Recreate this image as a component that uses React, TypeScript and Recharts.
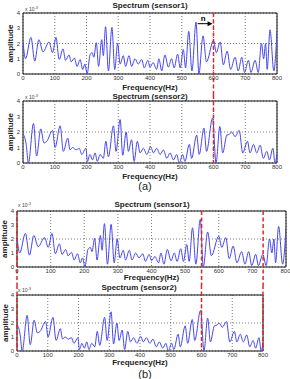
import React from 'react';
import {
  LineChart,
  Line,
  XAxis,
  YAxis,
  CartesianGrid,
  ReferenceLine,
  ReferenceArea,
} from 'recharts';

// spectrum (amplitude in units of 1e-3)
const s1Freq = [0, 8, 25, 37, 50, 63, 82, 93, 104, 114, 126, 134, 145, 152, 162, 170, 180, 188, 195, 202,
  211, 218, 223, 231, 238, 248, 253, 260, 269, 280, 289, 298, 306, 316, 323, 334, 342, 353, 363, 374,
  382, 393, 400, 410, 421, 428, 437, 447, 458, 468, 476, 487, 495, 505, 512, 522, 532, 545, 554, 567,
  578, 600, 609, 621, 631, 643, 654, 668, 678, 689, 698, 710, 718, 731, 741, 751, 758, 764, 769, 778,
  790, 800];
const s1Amp = [2.1, 1.0, 2.4, 0.85, 2.25, 1.45, 2.1, 1.4, 2.4, 0.95, 1.65, 0.9, 1.25, 0.8, 1.05, 0.5, 0.95, 0.3, 0.65, 0.0,
  1.25, 1.4, 1.1, 2.05, 0.5, 2.25, 1.2, 3.1, 0.2, 3.05, 0.3, 2.0, 0.65, 1.2, 0.5, 1.2, 0.5, 1.0, 0.65, 0.95,
  0.4, 0.9, 0.45, 0.75, 0.3, 1.0, 0.2, 1.25, 0.45, 1.0, 0.4, 1.3, 0.4, 1.6, 0.4, 2.8, 0.2, 3.4, 0.0, 2.5,
  0.8, 2.2, 1.4, 2.1, 0.6, 1.5, 0.3, 1.1, 0.2, 1.1, 0.1, 0.9, 0.1, 0.9, 0.1, 2.0, 1.0, 2.0, 0.3, 2.9,
  0.2, 2.8];

const s2Freq = [0, 10, 17, 33, 43, 56, 66, 75, 93, 101, 117, 127, 141, 148, 156, 167, 177, 185, 198, 203,
  211, 219, 227, 234, 243, 253, 261, 269, 285, 293, 306, 314, 325, 332, 342, 350, 360, 369, 379, 390,
  402, 411, 421, 432, 442, 453, 463, 474, 484, 492, 503, 510, 524, 531, 547, 555, 570, 578, 597, 608,
  620, 629, 642, 650, 657, 668, 681, 692, 707, 715, 726, 736, 747, 757, 768, 776, 787, 794, 800];
const s2Amp = [1.9, 1.2, 0.0, 2.55, 0.45, 2.2, 1.3, 1.4, 2.1, 1.0, 2.4, 0.75, 1.6, 0.85, 1.0, 0.85, 0.95, 0.55, 0.95, 0.1,
  0.55, 0.2, 0.65, 0.1, 0.55, 0.3, 1.4, 0.4, 2.4, 0.75, 2.8, 0.5, 2.0, 0.75, 1.5, 0.1, 1.4, 0.65, 0.95, 0.55,
  1.05, 0.65, 0.95, 0.55, 0.85, 0.3, 0.65, 0.2, 0.55, 0.0, 0.55, 0.1, 1.2, 0.3, 1.8, 0.55, 2.25, 0.75, 2.9, 0.0,
  2.35, 0.65, 1.8, 1.85, 2.0, 1.7, 2.1, 0.65, 1.4, 0.65, 1.2, 0.65, 1.15, 0.3, 0.75, 0.2, 0.95, 0.0, 0.6];

const xTicks = [0, 100, 200, 300, 400, 500, 600, 700, 800];
const yTicks = [0, 1, 2, 3, 4];

// red dashed markers (Hz)
const marksA = [600];
const marksB1 = [0, 549, 732];
const marksB2 = [0, 600, 800];
// "n" arrow in the top panel
const arrowFreq = [550, 597];
const arrowAmp = 3.3;

const sensor1 = s1Freq.map((f, i) => ({ f, v: s1Amp[i] }));
const sensor2 = s2Freq.map((f, i) => ({ f, v: s2Amp[i] }));

const FONT = "'Liberation Sans', Arial, sans-serif";
const BLUE = '#4646f0';
const RED = '#e02828';

interface PanelProps {
  data: { f: number; v: number }[];
  top: number;
  height: number;
  mTop: number;
  mRight: number;
  yW: number;
  xH: number;
  xLabelOffset: number;
  yLabelX: number;
  marks: number[];
  extUp: number;
  extDown: number;
  arrow?: boolean;
}

function Panel(p: PanelProps) {
  const markShape = (s: any) => {
    const y1 = Math.min(s.y1, s.y2) - p.extUp;
    const y2 = Math.max(s.y1, s.y2) + p.extDown;
    return <line x1={s.x1} x2={s.x2} y1={y1} y2={y2} stroke={RED} strokeWidth={1.5} strokeDasharray="4 2.5" />;
  };
  const arrowShape = (s: any) => {
    const xa = Math.min(s.x1, s.x2);
    const xb = Math.max(s.x1, s.x2);
    const y = s.y1;
    return (
      <g>
        <line x1={xa} x2={xb - 4} y1={y} y2={y} stroke="#000" strokeWidth={1} />
        <polygon points={`${xb},${y} ${xb - 5},${y - 2.5} ${xb - 5},${y + 2.5}`} fill="#000" />
        <text x={xa + 3} y={y - 3} fontSize={8} fontWeight="bold" fill="#000">n</text>
      </g>
    );
  };
  const yLabel = (s: any) => {
    const vb = s.viewBox || {};
    const cy = (vb.y ?? 0) + (vb.height ?? 0) / 2;
    return (
      <text x={p.yLabelX} y={cy} transform={`rotate(-90 ${p.yLabelX} ${cy})`} textAnchor="middle"
        dominantBaseline="central" fontSize={8} fontWeight="bold" fill="#222">amplitude</text>
    );
  };

  return (
    <div style={{ position: 'absolute', left: 0, top: p.top }}>
      <LineChart width={290} height={p.height} data={p.data}
        margin={{ top: p.mTop, right: p.mRight, bottom: 0, left: 0 }}>
        <CartesianGrid stroke="#444" strokeDasharray="1 2" strokeWidth={0.7} />
        <XAxis dataKey="f" type="number" domain={[0, 800]} ticks={xTicks} allowDataOverflow
          height={p.xH} tickSize={0} tickMargin={2} axisLine={false} tickLine={false}
          tick={{ fontSize: 6, fill: '#333' }}
          label={{ value: 'Frequency(Hz)', position: 'insideBottom', offset: p.xLabelOffset, fontSize: 8, fontWeight: 'bold', fill: '#222' }} />
        <YAxis type="number" domain={[0, 4]} ticks={yTicks} allowDataOverflow width={p.yW}
          tickSize={0} tickMargin={3} axisLine={false} tickLine={false}
          tick={{ fontSize: 6, fill: '#333' }} label={{ content: yLabel }} />
        <ReferenceArea x1={0} x2={800} y1={0} y2={4} fill="#fff" fillOpacity={0} stroke="#111" strokeWidth={1} ifOverflow="visible" />
        <Line type="monotone" dataKey="v" stroke={BLUE} strokeWidth={1} dot={false} isAnimationActive={false} />
        {p.marks.map(m => (
          <ReferenceLine key={m} x={m} ifOverflow="visible" shape={markShape} />
        ))}
        {p.arrow && (
          <ReferenceLine ifOverflow="visible" shape={arrowShape}
            segment={[{ x: arrowFreq[0], y: arrowAmp }, { x: arrowFreq[1], y: arrowAmp }]} />
        )}
      </LineChart>
    </div>
  );
}

const txt = (left: number, top: number, w: number, size: number, bold: boolean, content: React.ReactNode) => (
  <div style={{ position: 'absolute', left, top: top - size / 2, width: w, textAlign: 'center', fontSize: size,
    lineHeight: `${size}px`, fontWeight: bold ? 'bold' : 'normal', color: '#222', whiteSpace: 'nowrap' }}>
    {content}
  </div>
);

const exp = (left: number, top: number) => (
  <div style={{ position: 'absolute', left, top, fontSize: 5, lineHeight: '5px', color: '#444', whiteSpace: 'nowrap' }}>
    x 10<sup style={{ fontSize: 4, verticalAlign: 'top', position: 'relative', top: -2 }}>-3</sup>
  </div>
);

export default function App() {
  return (
    <div style={{ position: 'absolute', left: 0, top: 0, width: 290, height: 379, background: '#fff',
      overflow: 'hidden', fontFamily: FONT }}>
      <Panel data={sensor1} top={0} height={95} mTop={13} mRight={13} yW={23} xH={21} xLabelOffset={5}
        yLabelX={10} marks={marksA} extUp={0} extDown={21} arrow />
      <Panel data={sensor2} top={95} height={95} mTop={6} mRight={13} yW={23} xH={27} xLabelOffset={11}
        yLabelX={10} marks={marksA} extUp={6} extDown={0} />
      <Panel data={sensor1} top={195} height={90} mTop={16} mRight={4} yW={17} xH={18} xLabelOffset={5}
        yLabelX={4} marks={marksB1} extUp={0} extDown={18} />
      <Panel data={sensor2} top={285} height={94} mTop={10} mRight={27} yW={17} xH={28} xLabelOffset={14}
        yLabelX={5} marks={marksB2} extUp={10} extDown={0} />

      {txt(90, 6, 120, 8, true, 'Spectrum (sensor1)')}
      {txt(90, 97, 120, 8, true, 'Spectrum (sensor2)')}
      {txt(92, 205, 120, 8, true, 'Spectrum (sensor1)')}
      {txt(79, 288, 120, 8, true, 'Spectrum (sensor2)')}
      {txt(125, 186, 40, 11, false, '(a)')}
      {txt(125, 374, 40, 11, false, '(b)')}

      {exp(25, 7)}
      {exp(25, 95)}
      {exp(18, 203)}
      {exp(18, 288)}
    </div>
  );
}
